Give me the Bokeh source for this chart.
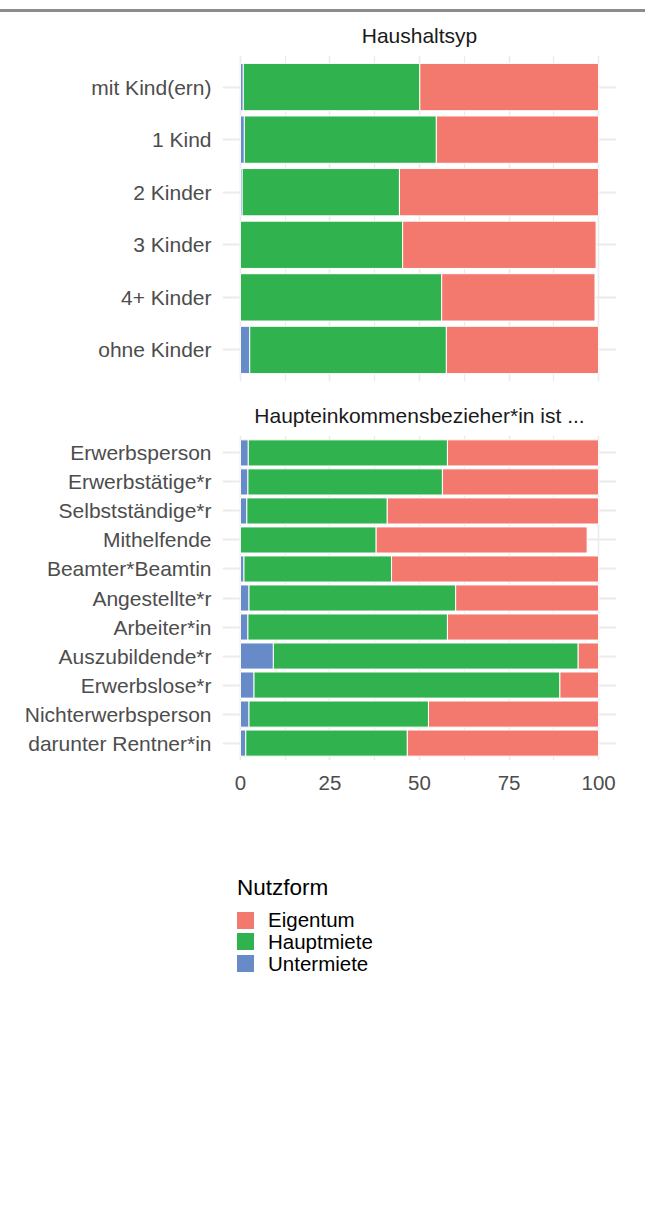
from bokeh.plotting import figure
from bokeh.models import (FactorRange, Range1d, FixedTicker, Div, ColumnDataSource)
from bokeh.layouts import column
from bokeh.embed import file_html
from bokeh.resources import INLINE

FONT = "Liberation Sans"

nutzform = ["Untermiete", "Hauptmiete", "Eigentum"]
nutz_colors = ["#678BC8", "#30B34F", "#F3786D"]
legend_order = ["Eigentum", "Hauptmiete", "Untermiete"]
legend_title = "Nutzform"

x_ticks = [0, 25, 50, 75, 100]
x_minor = [12.5, 37.5, 62.5, 87.5]

haushalt_title = "Haushaltsyp"
haushalt_cats = ["mit Kind(ern)", "1 Kind", "2 Kinder", "3 Kinder", "4+ Kinder", "ohne Kinder"]
haushalt_unter = [0.8, 1.1, 0.5, 0.0, 0.0, 2.6]
haushalt_haupt = [49.3, 53.6, 43.9, 45.3, 56.2, 54.9]
haushalt_eigen = [49.9, 45.3, 55.6, 54.0, 42.8, 42.5]

eink_title = "Haupteinkommensbezieher*in ist ..."
eink_cats = ["Erwerbsperson", "Erwerbstätige*r", "Selbstständige*r", "Mithelfende",
             "Beamter*Beamtin", "Angestellte*r", "Arbeiter*in", "Auszubildende*r",
             "Erwerbslose*r", "Nichterwerbsperson", "darunter Rentner*in"]
eink_unter = [2.2, 2.1, 1.8, 0.0, 1.0, 2.4, 2.1, 9.2, 3.8, 2.4, 1.5]
eink_haupt = [55.6, 54.3, 39.2, 37.9, 41.2, 57.7, 55.7, 85.1, 85.4, 50.1, 45.1]
eink_eigen = [42.2, 43.6, 59.0, 58.9, 57.8, 39.9, 42.2, 5.7, 10.8, 47.5, 53.4]

W = 645


def make_panel(cats, unter, haupt, eigen, title, height, top, bottom, show_x):
    src = ColumnDataSource(dict(cat=cats, Untermiete=unter, Hauptmiete=haupt, Eigentum=eigen))
    p = figure(width=W, height=height,
               y_range=FactorRange(factors=list(reversed(cats)), range_padding=0.1,
                                   range_padding_units="absolute"),
               x_range=Range1d(-5, 105),
               output_backend="svg", toolbar_location=None,
               min_border_left=222, min_border_right=29,
               min_border_top=top, min_border_bottom=bottom)
    rs = p.hbar_stack(nutzform, y="cat", height=0.9, fill_color=nutz_colors,
                      line_color="white", line_width=1, source=src)
    p.outline_line_color = None
    p.background_fill_color = "white"
    p.border_fill_color = "white"

    p.title.text = title
    p.title.align = "center"
    p.title.text_font = FONT
    p.title.text_font_size = "21px"
    p.title.text_font_style = "normal"
    p.title.text_color = "#1A1A1A"
    p.title.standoff = 18

    tick = FixedTicker(ticks=x_ticks, minor_ticks=x_minor)
    p.xaxis.ticker = tick
    p.xgrid.ticker = tick
    p.xgrid.grid_line_color = "#EBEBEB"
    p.xgrid.grid_line_width = 1.6
    p.xgrid.minor_grid_line_color = "#EBEBEB"
    p.xgrid.minor_grid_line_width = 1.2
    p.ygrid.grid_line_color = "#EBEBEB"
    p.ygrid.grid_line_width = 2

    for ax in (p.xaxis[0], p.yaxis[0]):
        ax.axis_line_color = None
        ax.major_tick_line_color = None
        ax.minor_tick_line_color = None
        ax.major_tick_out = 0
        ax.major_tick_in = 0
        ax.minor_tick_out = 0
        ax.minor_tick_in = 0
        ax.major_label_text_font = FONT
        ax.major_label_text_color = "#4D4D4D"
    p.yaxis.major_label_text_font_size = "21px"
    p.xaxis.major_label_text_font_size = "20.5px"
    p.yaxis.major_label_standoff = 11
    p.xaxis.major_label_standoff = 15
    p.xaxis.visible = show_x
    return p, rs


p1, _ = make_panel(haushalt_cats, haushalt_unter, haushalt_haupt, haushalt_eigen,
                   haushalt_title, 382, 55, 1, False)
# thin grey rule across the very top of the page
p1.border_fill_alpha = 0
p1.styles = {"background": "linear-gradient(to bottom, #FFFFFF 0px, #FFFFFF 9.5px, "
                           "#8C8C8C 9.5px, #8C8C8C 12.5px, #FFFFFF 12.5px)"}

p2, _ = make_panel(eink_cats, eink_unter, eink_haupt, eink_eigen,
                   eink_title, 418, 53, 40, True)

# legend (HTML), built from the series names and colours
rows = "".join(
    f'<div style="display:flex;align-items:center;height:21.7px;">'
    f'<span style="display:inline-block;width:17px;height:17px;background:{nutz_colors[nutzform.index(n)]};'
    f'margin-right:14px;"></span><span>{n}</span></div>'
    for n in legend_order)
legend_html = (
    f'<div style="font-family:\'{FONT}\';color:#000000;">'
    f'<div style="font-size:22.5px;line-height:26px;margin-bottom:8.3px;">{legend_title}</div>'
    f'<div style="font-size:20.5px;line-height:21.7px;">{rows}</div></div>')
legend_div = Div(text=legend_html, width=200, height=105, margin=(75, 0, 0, 237))

layout = column(p1, p2, legend_div)
open("out.html", "w").write(file_html(layout, INLINE))
